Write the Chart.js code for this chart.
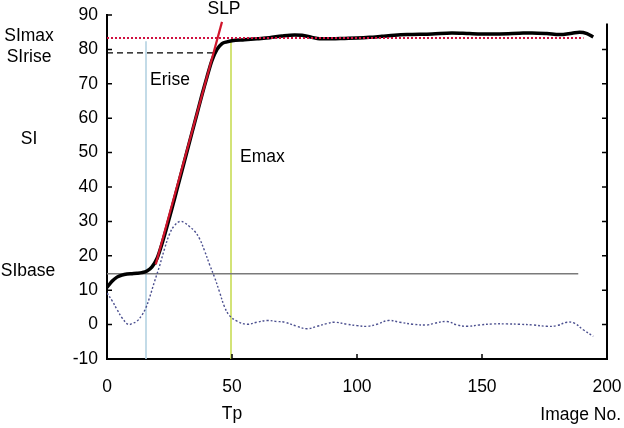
<!DOCTYPE html>
<html>
<head>
<meta charset="utf-8">
<script src="https://cdn.jsdelivr.net/npm/chart.js@4/dist/chart.umd.min.js"></script>
<style>
  html, body { margin: 0; padding: 0; background: #fff; }
  #wrap { width: 624px; height: 428px; }
</style>
</head>
<body>
<div id="wrap"><canvas id="chart" width="624" height="428"></canvas></div>
<script>
// signal intensity curve (SI vs image number)
const siX = [0, 2, 4, 6, 8, 10, 12, 14, 16, 18, 20, 22, 24, 26, 28, 30, 32, 34, 36, 38, 40, 42, 44, 46, 48, 50,
  55, 60, 65, 70, 75, 78, 82, 85, 90, 95, 100, 105, 110, 115, 120, 130, 138, 145, 150, 157, 165, 170, 176, 181, 186, 189, 192, 194.5];
const siY = [10.8, 12.6, 13.8, 14.4, 14.7, 14.8, 14.9, 15.1, 15.6, 16.8, 19.2, 23.5, 28.5, 33.8, 39.3, 44.8, 50.3, 55.8, 61.3, 66.8, 72, 76.8, 80, 81.7, 82.2, 82.5,
  82.8, 83.1, 83.4, 83.9, 84.2, 84.1, 83.5, 83.1, 83.1, 83.2, 83.3, 83.5, 83.8, 84.1, 84.3, 84.5, 84.8, 84.6, 84.5, 84.5, 84.7, 84.8, 84.6, 84.3, 84.7, 85, 84.6, 83.6];

// derivative curve (blue dotted)
const dX = [0, 2, 4, 6, 8.5, 10, 12, 14, 15.5, 17, 19, 21, 23, 25, 27, 29.2, 31, 33, 35, 37, 39, 41, 43, 45, 47, 49, 52, 56, 60, 64, 68, 71, 76, 80,
  84, 88, 91, 96, 100, 104, 108, 112.5, 117, 122.5, 128, 131, 136, 140, 144, 149, 154.5, 160, 165, 170.5, 176, 180, 184, 187, 190.5, 194.5];
const dY = [9.2, 7, 4.4, 2, 0, 0.3, 1, 2.8, 4.8, 7.8, 12.5, 17, 22, 26.3, 28.8, 30, 29.6, 28.5, 27.2, 25, 21.5, 17.5, 13.8, 9.5, 5.2, 2.6, 1, 0.1, 0.7, 1.2, 0.9, 0.7, -0.5, -1.2,
  -0.5, 0.3, 0.7, 0.1, -0.3, -0.5, 0.1, 1.2, 0.7, 0.1, -0.1, 0.4, 0.9, -0.1, -0.5, -0.1, 0.2, 0.2, 0.1, -0.1, -0.5, -0.3, 0.7, 0.4, -1.5, -3.4];

// slope line (SLP)
const slpX = [19.5, 46];
const slpY = [17.5, 88];

// reference levels
const siMax = 83.3;
const siRise = 79;
const siBase = 14.8;
const eRise = 15.6;
const eMax = 49.6;
const siMaxEnd = 190.6;
const siRiseEnd = 42.5;
const siBaseEnd = 188.5;
const vTop = 82.4;

const yTicks = [-10, 0, 10, 20, 30, 40, 50, 60, 70, 80, 90];
const xTicks = [0, 50, 100, 150, 200];

const FONT = "'Liberation Sans', Arial, sans-serif";
Chart.defaults.font.family = FONT;
Chart.defaults.font.size = 17.5;
Chart.defaults.color = '#000';

function pts(xs, ys) {
  return xs.map((x, i) => ({ x: x, y: ys[i] }));
}

// inward ticks, right axis and the text labels
const overlay = {
  id: 'overlay',
  afterDraw(chart) {
    const ctx = chart.ctx;
    const x = chart.scales.x, y = chart.scales.y;
    const L = x.getPixelForValue(0), R = x.getPixelForValue(200);
    const B = y.getPixelForValue(-10);
    ctx.save();
    ctx.strokeStyle = '#000';
    ctx.lineWidth = 1.5;
    ctx.beginPath();
    yTicks.forEach(v => {
      const py = y.getPixelForValue(v);
      ctx.moveTo(L, py); ctx.lineTo(L + 5, py);
      if (v <= 80) { ctx.moveTo(R, py); ctx.lineTo(R - 5, py); }
    });
    xTicks.forEach(v => {
      const px = x.getPixelForValue(v);
      ctx.moveTo(px, B); ctx.lineTo(px, B - 5);
    });
    ctx.stroke();
    // right axis
    ctx.lineWidth = 2;
    ctx.beginPath();
    ctx.moveTo(R, B + 1);
    ctx.lineTo(R, y.getPixelForValue(87.5));
    ctx.stroke();

    ctx.fillStyle = '#000';
    ctx.font = '17.5px ' + FONT;
    ctx.textBaseline = 'middle';
    ctx.textAlign = 'center';
    ctx.fillText('SImax', 29, y.getPixelForValue(83.9));
    ctx.fillText('SIrise', 29, y.getPixelForValue(77.8));
    ctx.fillText('SI', 29, y.getPixelForValue(53.8));
    ctx.fillText('SIbase', 28, y.getPixelForValue(15.4));
    ctx.fillText('SLP', x.getPixelForValue(46.8), y.getPixelForValue(91.6));
    ctx.fillText('Tp', x.getPixelForValue(50), 414);
    ctx.textAlign = 'left';
    ctx.fillText('Erise', x.getPixelForValue(17.2), y.getPixelForValue(71.2));
    ctx.fillText('Emax', x.getPixelForValue(53.2), y.getPixelForValue(48.7));
    ctx.textAlign = 'right';
    ctx.fillText('Image No.', 621, 415);
    ctx.restore();
  }
};

const lineBase = { pointRadius: 0, fill: false };

new Chart(document.getElementById('chart'), {
  type: 'line',
  data: {
    datasets: [
      Object.assign({ label: 'SLP', data: pts(slpX, slpY), borderColor: '#d0152b', borderWidth: 2.2 }, lineBase),
      Object.assign({ label: 'SImax', data: pts([0, siMaxEnd], [siMax, siMax]), borderColor: '#d01040', borderWidth: 2, borderDash: [2, 2] }, lineBase),
      Object.assign({ label: 'SI', data: pts(siX, siY), borderColor: '#000', borderWidth: 3.5, cubicInterpolationMode: 'monotone' }, lineBase),
      Object.assign({ label: 'dSI', data: pts(dX, dY), borderColor: '#4b4f8f', borderWidth: 1.4, borderDash: [2, 2], tension: 0.4 }, lineBase),
      Object.assign({ label: 'SIrise', data: pts([0, siRiseEnd], [siRise, siRise]), borderColor: '#000', borderWidth: 1.3, borderDash: [6, 4] }, lineBase),
      Object.assign({ label: 'SIbase', data: pts([0, siBaseEnd], [siBase, siBase]), borderColor: '#7a7a7a', borderWidth: 1.6 }, lineBase),
      Object.assign({ label: 'Erise', data: pts([eRise, eRise], [-10, vTop]), borderColor: '#b4d2e2', borderWidth: 1.6 }, lineBase),
      Object.assign({ label: 'Emax', data: pts([eMax, eMax], [-10, vTop]), borderColor: '#c8dc55', borderWidth: 1.6 }, lineBase)
    ]
  },
  options: {
    responsive: false,
    animation: false,
    layout: { padding: { top: 15, right: 17, left: 0, bottom: 0 } },
    plugins: { legend: { display: false }, tooltip: { enabled: false } },
    scales: {
      x: {
        type: 'linear', min: 0, max: 200,
        afterFit: s => { s.height = 69; s.paddingLeft = 0; s.paddingRight = 0; },
        ticks: { stepSize: 50, padding: 18, maxRotation: 0 },
        grid: { drawOnChartArea: false, drawTicks: false },
        border: { display: true, color: '#000', width: 2 }
      },
      y: {
        min: -10, max: 90,
        afterFit: s => { s.width = 107; s.paddingTop = 0; s.paddingBottom = 0; },
        ticks: { stepSize: 10, padding: 9 },
        grid: { drawOnChartArea: false, drawTicks: false },
        border: { display: true, color: '#000', width: 2 }
      }
    }
  },
  plugins: [overlay]
});
</script>
</body>
</html>
